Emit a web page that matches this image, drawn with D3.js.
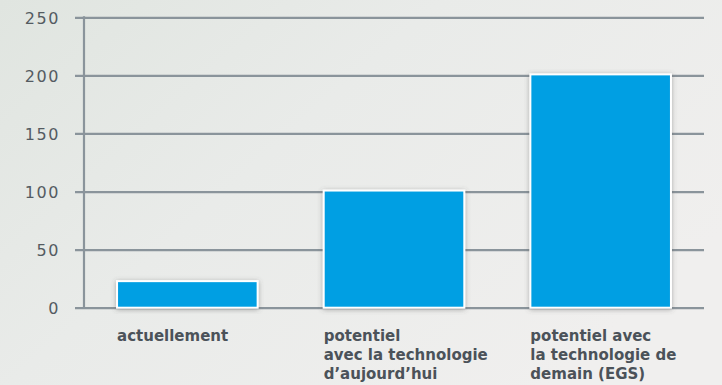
<!DOCTYPE html>
<html>
<head>
<meta charset="utf-8">
<script src="https://cdn.jsdelivr.net/npm/d3@7"></script>
<style>
  html, body { margin: 0; padding: 0; }
  body { width: 722px; height: 385px; overflow: hidden; }
  svg { display: block; }
</style>
</head>
<body>
<svg id="chart" width="722" height="385"></svg>
<script>
// ---- data ----
const categories = [
  ["actuellement"],
  ["potentiel", "avec la technologie", "d’aujourd’hui"],
  ["potentiel avec", "la technologie de", "demain (EGS)"]
];
const values = [22, 100, 200];
const yTicks = [0, 50, 100, 150, 200, 250];

// ---- layout ----
const W = 722, H = 385;
const plot = { left: 84, right: 704, top: 17.3, bottom: 307.7 };

const svg = d3.select("#chart");
const defs = svg.append("defs");

const bg = defs.append("linearGradient").attr("id", "bg")
  .attr("x1", "0%").attr("y1", "0%").attr("x2", "100%").attr("y2", "60%");
bg.append("stop").attr("offset", "0%").attr("stop-color", "#e0e5e0");
bg.append("stop").attr("offset", "45%").attr("stop-color", "#e9ebe9");
bg.append("stop").attr("offset", "100%").attr("stop-color", "#f0efee");

const shadow = defs.append("filter").attr("id", "shadow")
  .attr("x", "-20%").attr("y", "-20%").attr("width", "140%").attr("height", "140%");
shadow.append("feDropShadow").attr("dx", 0).attr("dy", 1)
  .attr("stdDeviation", 2.5).attr("flood-color", "#555").attr("flood-opacity", 0.45);

svg.append("rect").attr("width", W).attr("height", H).attr("fill", "url(#bg)");

const x = d3.scaleBand()
  .domain(d3.range(categories.length))
  .range([plot.left, plot.right])
  .paddingInner(0.31)
  .paddingOuter(0.155);

const y = d3.scaleLinear().domain([0, 250]).range([plot.bottom, plot.top]);

// grid lines + ticks
const yAxis = d3.axisLeft(y).tickValues(yTicks).tickSize(plot.left - plot.right).tickSizeOuter(0).tickPadding(0);
const gAxis = svg.append("g").attr("transform", `translate(${plot.left},0)`).call(yAxis);
gAxis.select(".domain").remove();
gAxis.selectAll(".tick line")
  .attr("x1", -9).attr("x2", plot.right - plot.left)
  .attr("stroke", "#8a949b").attr("stroke-width", 2.2);
gAxis.selectAll(".tick text")
  .attr("x", -24)
  .attr("dy", "0.36em")
  .attr("fill", "#545b62")
  .style("font-family", "DejaVu Sans, sans-serif")
  .style("font-size", "16px")
  .style("letter-spacing", "1.6px")
  .attr("text-anchor", "end");

// vertical axis line
svg.append("line")
  .attr("x1", plot.left).attr("x2", plot.left)
  .attr("y1", y(250) - 1).attr("y2", y(0) + 1)
  .attr("stroke", "#8a949b").attr("stroke-width", 2.2);

// bars
svg.append("g").selectAll("rect")
  .data(values)
  .join("rect")
  .attr("x", (d, i) => x(i) + 1)
  .attr("width", x.bandwidth() - 2)
  .attr("y", d => y(d) - 1)
  .attr("height", d => y(0) - y(d) + 1)
  .attr("fill", "#009fe3")
  .attr("stroke", "#ffffff")
  .attr("stroke-width", 2)
  .attr("filter", "url(#shadow)");

// category labels
const lab = svg.append("g").selectAll("text")
  .data(categories)
  .join("text")
  .attr("x", (d, i) => x(i) + 1)
  .attr("y", 340.5)
  .attr("fill", "#4b5259")
  .style("font-family", "DejaVu Sans, sans-serif")
  .style("font-weight", "bold")
  .style("font-size", "15px");
lab.selectAll("tspan")
  .data(d => d)
  .join("tspan")
  .attr("x", function () { return this.parentNode.getAttribute("x"); })
  .attr("dy", (d, i) => i === 0 ? 0 : 19.3)
  .text(d => d);
</script>
</body>
</html>
